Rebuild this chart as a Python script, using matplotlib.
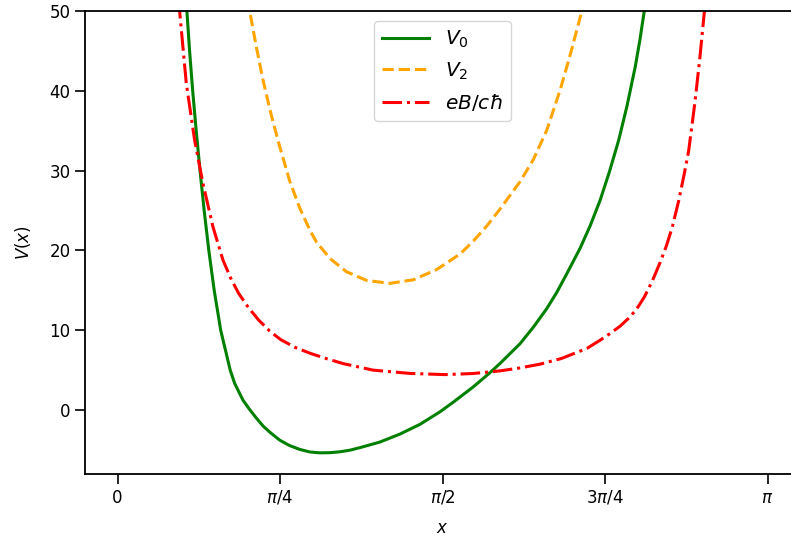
import numpy as np
import matplotlib
matplotlib.use("Agg")
import matplotlib.pyplot as plt

# V_0 curve
x_v0 = [0.3282, 0.3354, 0.3484, 0.3634, 0.3804, 0.3989, 0.4189, 0.4414, 0.4674, 0.4989,
        0.5219, 0.5449, 0.5663, 0.6065, 0.6389, 0.6713, 0.7040, 0.7357, 0.7841, 0.8300,
        0.8809, 0.9300, 0.9777, 1.0260, 1.0745, 1.1230, 1.1713, 1.2680, 1.3650, 1.4618,
        1.5586, 1.6229, 1.7198, 1.8006, 1.8490, 1.9458, 2.0100, 2.0750, 2.1235, 2.1718,
        2.2362, 2.2846, 2.3330, 2.3780, 2.4225, 2.4625, 2.5024, 2.5250, 2.5460, 2.5670]
y_v0 = [53.0, 50.0, 45.0, 40.0, 35.0, 30.0, 25.0, 20.0, 15.0, 10.0,
        7.5, 5.0, 3.35, 1.25, 0.07, -1.00, -2.00, -2.75, -3.76, -4.42,
        -4.92, -5.24, -5.35, -5.33, -5.22, -5.02, -4.70, -4.00, -3.00, -1.78,
        -0.21, 1.00, 2.92, 4.70, 5.85, 8.33, 10.40, 12.73, 14.77, 17.10,
        20.30, 23.10, 26.32, 29.90, 33.83, 38.10, 43.02, 46.40, 50.0, 54.0]

# V_2 curve
x_v2 = [0.6220, 0.6389, 0.6711, 0.7033, 0.7437, 0.7841, 0.8325, 0.8809, 0.9293, 0.9618,
        1.0261, 1.1070, 1.2038, 1.3165, 1.4293, 1.5426, 1.6554, 1.7198, 1.7846, 1.8490,
        1.9458, 2.0087, 2.0750, 2.1394, 2.1878, 2.2444, 2.2750]
y_v2 = [53.0, 50.0, 45.5, 41.35, 36.9, 33.00, 28.70, 25.31, 22.56, 21.05,
        19.01, 17.33, 16.25, 15.88, 16.33, 17.61, 19.55, 21.18, 23.06, 25.19,
        28.63, 31.33, 35.09, 40.10, 44.49, 50.0, 53.0]

# eB/(c hbar) curve
x_b = [0.2870, 0.3001, 0.3325, 0.3727, 0.4129, 0.4613, 0.5097, 0.5477, 0.5857, 0.6341,
       0.6825, 0.7358, 0.7890, 0.8592, 0.9293, 0.9937, 1.0905, 1.2357, 1.4134, 1.5828,
       1.7198, 1.8490, 1.9458, 2.0426, 2.1467, 2.2686, 2.3330, 2.3814, 2.4298, 2.4685,
       2.5073, 2.5460, 2.5847, 2.6234, 2.6525, 2.6815, 2.7120, 2.7396, 2.7604, 2.7904,
       2.8146, 2.8340, 2.8519]
y_b = [54.0, 50.0, 40.94, 33.83, 28.41, 22.97, 18.80, 16.50, 14.62, 12.80,
       11.28, 9.90, 8.83, 7.85, 7.14, 6.58, 5.83, 5.01, 4.60, 4.45,
       4.59, 4.92, 5.29, 5.76, 6.48, 7.73, 8.77, 9.61, 10.53, 11.47,
       12.59, 14.16, 16.17, 18.55, 20.55, 22.93, 26.19, 29.64, 32.46, 38.47,
       44.11, 49.25, 54.0]

xtick_vals = [0, np.pi / 4, np.pi / 2, 3 * np.pi / 4, np.pi]
xtick_labels = ["0", r"$\pi/4$", r"$\pi/2$", r"$3\pi/4$", r"$\pi$"]
ytick_vals = [0, 10, 20, 30, 40, 50]

fig = plt.figure(figsize=(7.91, 5.42), dpi=100)
ax = fig.add_axes([85 / 791, 68 / 542, 715 / 791, 463 / 542])

lw = 2.2
ax.plot(x_v0, y_v0, color="green", linestyle="-", linewidth=lw, label=r"$V_0$")
ax.plot(x_v2, y_v2, color="orange", linestyle="--", linewidth=lw, label=r"$V_2$")
ax.plot(x_b, y_b, color="red", linestyle="-.", linewidth=lw, label=r"$eB/c\hbar$")

ax.set_xlim(-0.05 * np.pi, 1.05 * np.pi)
ax.set_ylim(-8, 50)
ax.set_xticks(xtick_vals)
ax.set_xticklabels(xtick_labels)
ax.set_yticks(ytick_vals)
ax.tick_params(labelsize=12, length=7, width=1.2)
for s in ax.spines.values():
    s.set_linewidth(1.3)
ax.spines["right"].set_visible(False)

ax.set_xlabel(r"$x$", fontsize=12, labelpad=9)
ax.set_ylabel(r"$V(x)$", fontsize=12, labelpad=12)

ax.legend(loc="upper center", fontsize=14.5, handlelength=2.3)

fig.savefig("out.png", dpi=100)
